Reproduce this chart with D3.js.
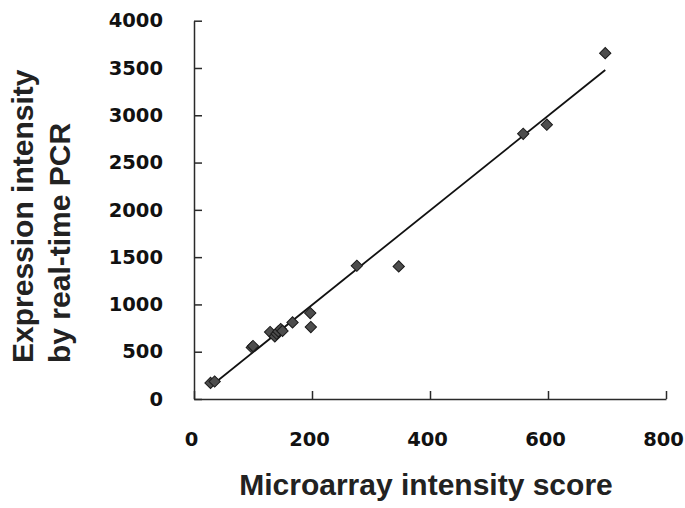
<html>
<head>
<style>
body
{
  margin:0;
  background:#fff;
}
</style>
<script src="https://cdnjs.cloudflare.com/ajax/libs/d3/7.8.5/d3.min.js"></script>
</head>
<body>
<script>
// microarray score vs real-time PCR intensity
var microarray = [28, 35, 98, 100, 129, 137, 140, 143, 147, 150, 167, 197, 198, 276, 347, 558, 598, 697];
var pcr        = [170, 185, 545, 560, 708, 662, 690, 715, 740, 720, 810, 909, 761, 1409, 1402, 2804, 2900, 3657];

// regression line end points
var fitX = [32, 697];
var fitY = [154, 3479];

var xTicks = [0, 200, 400, 600, 800];
var yTicks = [0, 500, 1000, 1500, 2000, 2500, 3000, 3500, 4000];

var w = 685, h = 508;

var svg = d3.select("body")
  .append("svg")
  .attr("width", w)
  .attr("height", h);

var x = d3.scaleLinear().domain([0, 800]).range([194, 666]);
var y = d3.scaleLinear().domain([0, 4000]).range([399, 20.7]);

var xAxis = svg.append("g")
  .attr("transform", "translate(0," + y(0) + ")")
  .call(d3.axisBottom(x).tickValues(xTicks).tickFormat(d3.format("d"))
    .tickSizeInner(-8).tickSizeOuter(0).tickPadding(33));

var yAxis = svg.append("g")
  .attr("transform", "translate(" + x(0) + ",0)")
  .call(d3.axisLeft(y).tickValues(yTicks).tickFormat(d3.format("d"))
    .tickSizeInner(-8).tickSizeOuter(0).tickPadding(31));

[xAxis, yAxis].forEach(function(g) {
  g.selectAll("path, line").attr("stroke", "#2a2a2a").attr("stroke-width", 1.5);
  g.selectAll("text")
    .attr("fill", "#111")
    .style("font-family", "'DejaVu Sans', sans-serif")
    .style("font-weight", "bold")
    .style("font-size", "19.5px");
});
// labels sit a little left of their ticks in the original
xAxis.selectAll("text").attr("x", -3);

// fitted line
svg.append("line")
  .attr("x1", x(fitX[0])).attr("y1", y(fitY[0]))
  .attr("x2", x(fitX[1])).attr("y2", y(fitY[1]))
  .attr("stroke", "#111")
  .attr("stroke-width", 1.8);

// diamonds
var diamond = d3.symbol().type(d3.symbolSquare).size(64);
svg.append("g").selectAll("path")
  .data(microarray)
  .enter().append("path")
  .attr("d", diamond)
  .attr("transform", function(d, i) {
    return "translate(" + x(d) + "," + y(pcr[i]) + ") rotate(45)";
  })
  .attr("fill", "#4d4d4d")
  .attr("stroke", "#1a1a1a")
  .attr("stroke-width", 1);

// axis titles
svg.append("text")
  .attr("x", 426)
  .attr("y", 495)
  .attr("text-anchor", "middle")
  .style("font-family", "'Liberation Sans', Arial, sans-serif")
  .style("font-weight", "bold")
  .style("font-size", "30px")
  .attr("fill", "#222")
  .text("Microarray intensity score");

var yTitle = svg.append("text")
  .attr("transform", "rotate(-90)")
  .style("font-family", "'Liberation Sans', Arial, sans-serif")
  .style("font-weight", "bold")
  .style("font-size", "30px")
  .attr("fill", "#222");

yTitle.append("tspan").attr("x", -363).attr("y", 33).text("Expression intensity");
yTitle.append("tspan").attr("x", -363).attr("y", 70).text("by real-time PCR");
</script>
</body>
</html>
